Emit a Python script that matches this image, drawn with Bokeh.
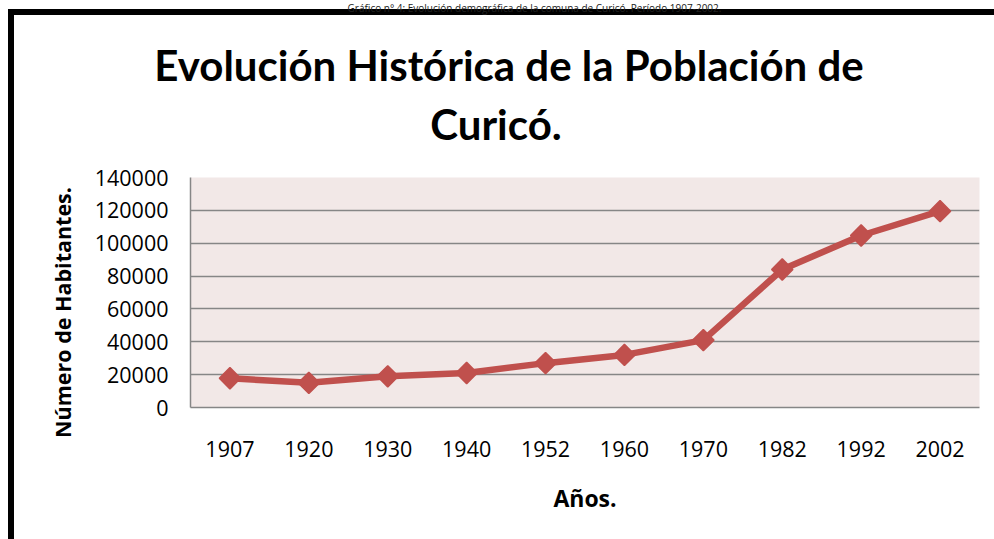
import math
from bokeh.plotting import figure
from bokeh.models import Range1d, FixedTicker, NumeralTickFormatter, Label
from bokeh.embed import file_html
from bokeh.resources import INLINE

# ---- data ----
years = ["1907", "1920", "1930", "1940", "1952", "1960", "1970", "1982", "1992", "2002"]
population = [17800, 15000, 19000, 21000, 27000, 32000, 41000, 84000, 104700, 119500]
y_ticks = [0, 20000, 40000, 60000, 80000, 100000, 120000, 140000]

caption = "Gráfico n° 4: Evolución demográfica de la comuna de Curicó. Período 1907-2002."
title_lines = ["Evolución Histórica de la Población de", "Curicó."]
y_title = "Número de Habitantes."
x_title = "Años."

W, H = 994, 539
BL, BR, BT, BB = 190, 15, 177, 132
FONT = "Open Sans"
TITLE_FONT = "Lato"
LINE_COLOR = "#C0504D"
GRID = "#868686"
YMAX = 140000

p = figure(width=W, height=H, x_range=years, y_range=Range1d(0, YMAX),
           output_backend="svg", toolbar_location=None,
           min_border_left=BL, min_border_right=BR,
           min_border_top=BT, min_border_bottom=BB)

p.background_fill_color = "#F2E8E7"
p.border_fill_color = None
p.outline_line_color = None
# thick black edge of the chart object (top and left), drawn behind the canvas
p.styles = {
    "background-color": "white",
    "background-image": "linear-gradient(#000, #000), linear-gradient(#000, #000)",
    "background-size": "6px 100%, 100% 6px",
    "background-position": "8px 9px, 8px 9px",
    "background-repeat": "no-repeat",
}

p.line(x=years, y=population, line_color=LINE_COLOR, line_width=6.5)
p.scatter(x=years, y=population, marker="square", angle=math.pi / 4, size=15,
          fill_color=LINE_COLOR, line_color=LINE_COLOR, line_width=1.5)

# axes
p.yaxis.ticker = FixedTicker(ticks=y_ticks)
p.yaxis.formatter = NumeralTickFormatter(format="0")
for ax in (p.xaxis, p.yaxis):
    ax.axis_line_color = GRID
    ax.axis_line_width = 1.5
    ax.major_tick_line_color = None
    ax.minor_tick_line_color = None
    ax.major_tick_out = 0
    ax.major_tick_in = 0
    ax.major_label_text_font = FONT
    ax.major_label_text_font_size = "21.5px"
    ax.major_label_text_color = "#000000"
p.yaxis.major_label_standoff = 22
p.xaxis.major_label_standoff = 33

p.xaxis.axis_label = x_title
p.xaxis.axis_label_text_font = FONT
p.xaxis.axis_label_text_font_style = "bold"
p.xaxis.axis_label_text_font_size = "23px"
p.xaxis.axis_label_text_color = "black"
p.xaxis.axis_label_standoff = 22

p.xgrid.grid_line_color = None
p.ygrid.grid_line_color = GRID
p.ygrid.grid_line_width = 1.5

def lab(x, y, text, size, font=FONT, style="bold", angle=0.0, baseline="alphabetic",
        color="black"):
    return Label(x=x, y=y, x_units="canvas", y_units="canvas", text=text, angle=angle,
                 text_font=font, text_font_style=style, text_font_size=size,
                 text_align="center", text_baseline=baseline, text_color=color)

# document caption above the chart (kept small so it fits in the top strip)
p.add_layout(lab(534, 0, caption, "10px", style="normal", baseline="top",
                 color="#222222"), "above")
# title lines (placed in the top panel so they are not clipped to the frame)
p.add_layout(lab(508.5, 64, title_lines[0], "42px", font=TITLE_FONT), "above")
p.add_layout(lab(495.5, 123, title_lines[1], "42px", font=TITLE_FONT), "above")
# vertical axis title
p.add_layout(lab(62, 312, y_title, "21.5px", angle=math.pi / 2, baseline="middle"), "left")

open("out.html", "w").write(file_html(p, INLINE))
